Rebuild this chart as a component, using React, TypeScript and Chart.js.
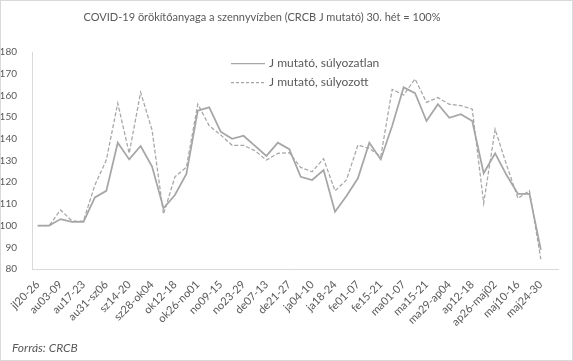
import React, { useEffect, useRef } from "react";
import { Chart, registerables } from "chart.js";

Chart.register(...registerables);

const categories = [
  "jl20-26", "jl27-au02", "au03-09", "au10-16", "au17-23", "au24-30", "au31-sz06", "sz07-13",
  "sz14-20", "sz21-27", "sz28-ok04", "ok05-11", "ok12-18", "ok19-25", "ok26-no01", "no02-08",
  "no09-15", "no16-22", "no23-29", "no30-de06", "de07-13", "de14-20", "de21-27", "de28-ja03",
  "ja04-10", "ja11-17", "ja18-24", "ja25-31", "fe01-07", "fe08-14", "fe15-21", "fe22-28",
  "ma01-07", "ma08-14", "ma15-21", "ma22-28", "ma29-ap04", "ap05-11", "ap12-18", "ap19-25",
  "ap26-maj02", "maj03-09", "maj10-16", "maj17-23", "maj24-30", "maj31-jún06",
];

const unweighted = [
  100, 100, 103, 101.7, 101.7, 113, 116, 138.2, 130.5, 136.7, 127.2, 108, 114.1, 123.8, 153, 154.5,
  143.3, 140, 141.4, 136.7, 132.1, 138.2, 135.2, 122.5, 121, 125.6, 106.4, 113.6, 121.8, 138.2, 130.5, 146,
  163.7, 161, 148.2, 155.9, 149.7, 151.3, 148.2, 124.1, 133.3, 123.3, 114.6, 114.6, 88.8, null,
];

const weighted = [
  100, 100, 107.2, 102.1, 102.1, 118.7, 130.2, 156.4, 133.3, 161.4, 144, 105.3, 122.5, 126.9, 156, 146,
  141.8, 137, 137, 134.5, 130.2, 133.3, 133.6, 126.8, 124.8, 130.8, 116, 121, 137.1, 135.6, 131.8, 162.8,
  160.2, 167.6, 156.8, 159, 155.9, 155.3, 153.7, 110.3, 144.4, 128, 112.6, 116.1, 84.5, null,
];

const yTicks = [80, 90, 100, 110, 120, 130, 140, 150, 160, 170, 180];

const seriesNames = ["J mutató, súlyozatlan", "J mutató, súlyozott"];
const titleText = "COVID-19 örökítőanyaga a szennyvízben (CRCB J mutató) 30. hét = 100%";
const sourceText = "Forrás: CRCB";

const FONT = "Lato, 'Open Sans', sans-serif";
const TEXT = "#595959";
const LINE = "#a6a6a6";
const AXIS = "#d9d9d9";

const decorPlugin = {
  id: "decor",
  afterDraw(chart: any) {
    const ctx = chart.ctx as CanvasRenderingContext2D;
    ctx.save();
    // title
    ctx.font = `11px ${FONT}`;
    ctx.fillStyle = TEXT;
    ctx.textBaseline = "middle";
    ctx.textAlign = "center";
    ctx.fillText(titleText, 262, 17);
    // legend
    ctx.textAlign = "left";
    const lx = 231;
    const rows = [
      { y: 63, dash: [] as number[], text: seriesNames[0] },
      { y: 82, dash: [3, 2], text: seriesNames[1] },
    ];
    ctx.font = `12px ${FONT}`;
    for (const r of rows) {
      ctx.beginPath();
      ctx.setLineDash(r.dash);
      ctx.strokeStyle = LINE;
      ctx.lineWidth = 1.25;
      ctx.moveTo(lx, r.y + 0.5);
      ctx.lineTo(lx + 34, r.y + 0.5);
      ctx.stroke();
      ctx.fillText(r.text, lx + 38, r.y);
    }
    ctx.setLineDash([]);
    // source
    ctx.font = `italic 12px ${FONT}`;
    ctx.fillText(sourceText, 12, 348);
    // border
    ctx.strokeStyle = AXIS;
    ctx.lineWidth = 1;
    ctx.strokeRect(0.5, 0.5, chart.width - 1, chart.height - 1);
    ctx.restore();
  },
};

export default function App() {
  const ref = useRef<HTMLCanvasElement | null>(null);
  useEffect(() => {
    if (!ref.current) return;
    const chart = new Chart(ref.current, {
      type: "line",
      data: {
        labels: categories,
        datasets: [
          {
            label: seriesNames[0],
            data: unweighted,
            borderColor: LINE,
            borderWidth: 1.75,
            pointRadius: 0,
            tension: 0,
            fill: false,
          },
          {
            label: seriesNames[1],
            data: weighted,
            borderColor: LINE,
            borderWidth: 1.25,
            borderDash: [4, 2],
            pointRadius: 0,
            tension: 0,
            fill: false,
          },
        ],
      },
      options: {
        responsive: false,
        animation: false,
        layout: { padding: { left: 0, right: 15, top: 52, bottom: 0 } },
        plugins: {
          legend: { display: false },
          tooltip: { enabled: false },
          title: { display: false },
        },
        scales: {
          x: {
            offset: true,
            grid: { display: false, drawTicks: false },
            border: { display: true, color: AXIS, width: 1 },
            ticks: {
              autoSkip: false,
              minRotation: 45,
              maxRotation: 45,
              color: TEXT,
              padding: 9,
              font: { family: FONT, size: 11 },
              callback: (_v: any, i: number) => (i % 2 === 0 ? categories[i] : ""),
            },
            afterFit: (s: any) => {
              s.height = 92;
            },
          },
          y: {
            min: yTicks[0],
            max: yTicks[yTicks.length - 1],
            grid: { display: false, drawTicks: false },
            border: { display: true, color: AXIS, width: 1 },
            afterBuildTicks: (s: any) => {
              s.ticks = yTicks.map((v) => ({ value: v }));
            },
            ticks: {
              color: TEXT,
              padding: 15,
              font: { family: FONT, size: 10 },
            },
            afterFit: (s: any) => {
              s.width = 32;
            },
          },
        },
      },
      plugins: [decorPlugin],
    });
    return () => chart.destroy();
  }, []);
  return (
    <div style={{ position: "fixed", left: 0, top: 0, width: 573, height: 361, background: "#fff" }}>
      <canvas ref={ref} width={573} height={361} />
    </div>
  );
}
